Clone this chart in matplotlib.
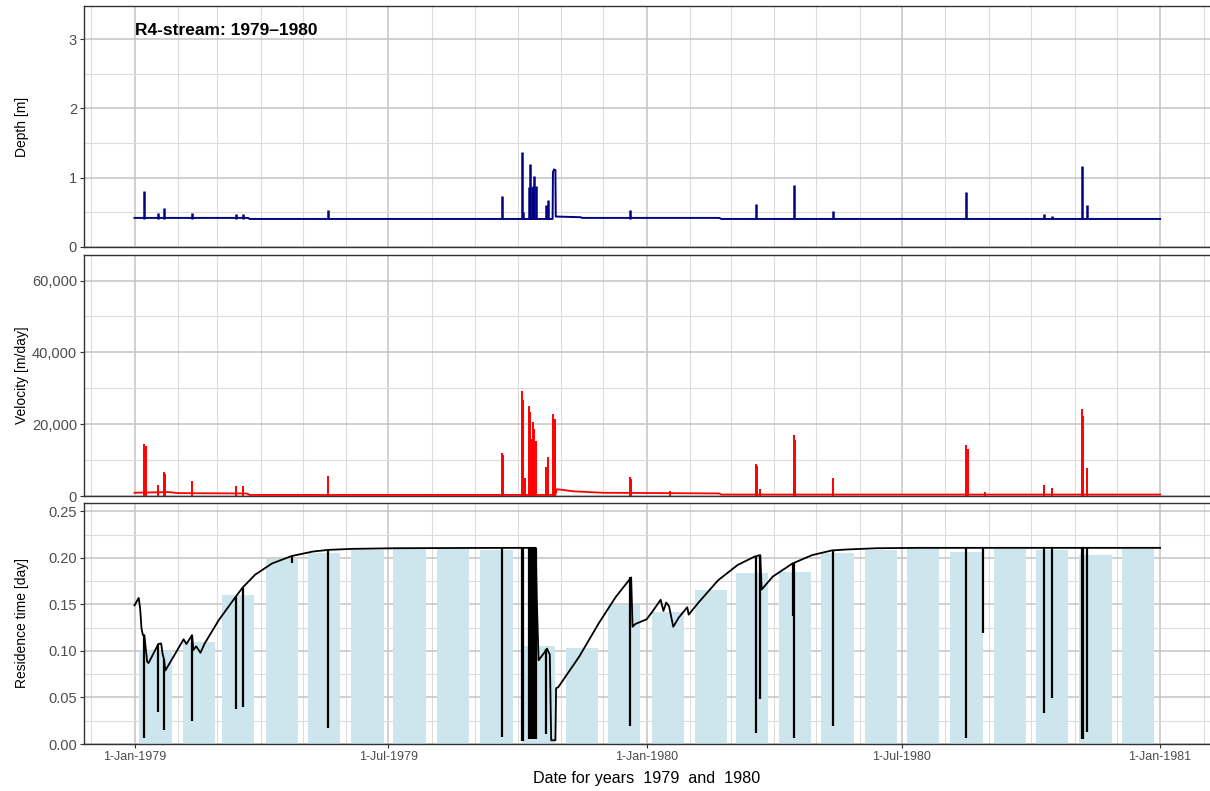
import matplotlib
matplotlib.use('Agg')
import matplotlib.pyplot as plt
import matplotlib.ticker as mticker
import pandas as pd

plt.rcParams['font.family'] = ['Liberation Sans', 'DejaVu Sans']

# ---- depth [m] ----
depth_base_dates = ['1979-01-01', '1979-03-23', '1979-03-24', '1979-10-26', '1979-10-26 06:00',
                    '1979-10-27', '1979-10-28', '1979-10-28 06:00', '1979-11-15', '1979-11-16',
                    '1980-02-22', '1980-02-23', '1981-01-01']
depth_base_vals = [0.42, 0.42, 0.405, 0.405, 1.08, 1.12, 1.11, 0.44, 0.43, 0.42, 0.42, 0.405, 0.405]
depth_spk_dates = ['1979-01-08', '1979-01-18', '1979-01-22', '1979-02-11', '1979-03-14', '1979-03-19',
                   '1979-05-19', '1979-09-20', '1979-10-04', '1979-10-05', '1979-10-09', '1979-10-10',
                   '1979-10-11', '1979-10-12', '1979-10-13', '1979-10-14', '1979-10-21', '1979-10-23',
                   '1979-12-20', '1980-03-19', '1980-04-15', '1980-05-13', '1980-08-16', '1980-10-10',
                   '1980-10-16', '1980-11-06', '1980-11-10']
depth_spk_vals = [0.81, 0.49, 0.56, 0.49, 0.48, 0.48, 0.54, 0.73, 1.37, 0.50, 0.86, 1.20,
                  0.86, 0.88, 1.02, 0.88, 0.60, 0.68, 0.53, 0.62, 0.90, 0.52, 0.80, 0.48,
                  0.45, 1.17, 0.60]

# ---- velocity [m/day] ----
vel_base_dates = ['1979-01-01', '1979-01-25', '1979-02-01', '1979-03-22', '1979-03-24', '1979-10-28',
                  '1979-10-29', '1979-11-10', '1979-12-01', '1980-01-15', '1980-02-22', '1980-02-23',
                  '1981-01-01']
vel_base_vals = [900, 1100, 800, 700, 300, 300, 1900, 1300, 900, 800, 700, 400, 400]
vel_spk_dates = ['1979-01-08', '1979-01-09', '1979-01-18', '1979-01-22', '1979-01-23', '1979-02-11',
                 '1979-03-14', '1979-03-19', '1979-05-19', '1979-09-20', '1979-09-21', '1979-10-04',
                 '1979-10-05', '1979-10-06', '1979-10-09', '1979-10-10', '1979-10-11', '1979-10-12',
                 '1979-10-13', '1979-10-14', '1979-10-21', '1979-10-23', '1979-10-26', '1979-10-27',
                 '1979-10-28', '1979-12-20', '1979-12-21', '1980-01-18', '1980-03-19', '1980-03-20',
                 '1980-03-22', '1980-04-15', '1980-04-16', '1980-05-13', '1980-08-16', '1980-08-17',
                 '1980-08-29', '1980-10-10', '1980-10-16', '1980-11-06', '1980-11-07', '1980-11-10']
vel_spk_vals = [14500, 13800, 3100, 6800, 6200, 4200,
                2700, 2700, 5700, 12100, 11500, 29300,
                26800, 5100, 25000, 23300, 15900, 20500,
                18700, 15400, 8100, 10900, 22900, 21400,
                21400, 5300, 4800, 1300, 8900, 8400,
                1900, 17000, 15600, 5100, 14300, 13200,
                1000, 3000, 2100, 24100, 22400, 7700]

# ---- residence time [day] ----
res_dates = ['1979-01-01', '1979-01-04', '1979-01-05', '1979-01-06', '1979-01-07', '1979-01-08',
             '1979-01-10', '1979-01-11', '1979-01-18', '1979-01-20', '1979-01-21', '1979-01-22',
             '1979-01-23', '1979-01-30', '1979-02-05', '1979-02-07', '1979-02-11', '1979-02-12',
             '1979-02-14', '1979-02-17', '1979-02-20', '1979-03-02', '1979-03-14', '1979-03-19',
             '1979-03-28', '1979-04-09', '1979-04-23', '1979-05-08', '1979-05-19', '1979-06-05',
             '1979-07-06', '1979-08-29', '1979-10-14', '1979-10-14 18:00', '1979-10-16', '1979-10-20',
             '1979-10-22', '1979-10-24', '1979-10-25', '1979-10-28', '1979-10-28 12:00', '1979-10-30',
             '1979-11-14', '1979-11-28', '1979-12-10', '1979-12-21', '1979-12-22', '1979-12-24',
             '1980-01-01', '1980-01-05', '1980-01-11', '1980-01-13', '1980-01-15', '1980-01-17',
             '1980-01-20', '1980-01-24', '1980-01-30', '1980-01-31', '1980-02-07', '1980-02-21',
             '1980-03-06', '1980-03-18', '1980-03-22', '1980-03-23', '1980-03-31', '1980-04-14',
             '1980-04-28', '1980-05-12', '1980-05-22', '1980-06-13', '1980-07-13', '1981-01-01']
res_vals = [0.149, 0.157, 0.146, 0.124, 0.117, 0.117,
            0.0885, 0.087, 0.1075, 0.108, 0.097, 0.091,
            0.079, 0.097, 0.1125, 0.1075, 0.117, 0.101,
            0.105, 0.098, 0.108, 0.133, 0.158, 0.168,
            0.182, 0.194, 0.202, 0.2068, 0.2086, 0.2097,
            0.2104, 0.2107, 0.2108, 0.155, 0.090, 0.098,
            0.1025, 0.096, 0.004, 0.004, 0.060, 0.061,
            0.094, 0.130, 0.158, 0.179, 0.126, 0.129,
            0.134, 0.142, 0.155, 0.143, 0.152, 0.148,
            0.126, 0.136, 0.147, 0.139, 0.152, 0.176,
            0.1925, 0.2014, 0.203, 0.166, 0.180, 0.194,
            0.203, 0.208, 0.209, 0.2104, 0.2108, 0.2108]
res_spk_dates = ['1979-01-08', '1979-01-18', '1979-01-22', '1979-02-11', '1979-03-14', '1979-03-19',
                 '1979-04-23', '1979-05-19', '1979-09-20', '1979-10-04', '1979-10-05', '1979-10-09',
                 '1979-10-10', '1979-10-11', '1979-10-12', '1979-10-13', '1979-10-14', '1979-10-21',
                 '1979-12-20', '1980-03-19', '1980-03-22', '1980-04-14', '1980-04-15', '1980-05-13',
                 '1980-08-16', '1980-08-28', '1980-10-10', '1980-10-16', '1980-11-06', '1980-11-07',
                 '1980-11-10']
res_spk_low = [0.006, 0.034, 0.015, 0.025, 0.038, 0.040,
               0.195, 0.017, 0.008, 0.003, 0.003, 0.005,
               0.005, 0.005, 0.005, 0.005, 0.005, 0.011,
               0.019, 0.0115, 0.048, 0.138, 0.006, 0.019,
               0.006, 0.119, 0.033, 0.049, 0.005, 0.005,
               0.013]
res_spk_high = [0.117, 0.1075, 0.091, 0.117, 0.158, 0.168,
                0.202, 0.2086, 0.2108, 0.2108, 0.2108, 0.2108,
                0.2108, 0.2108, 0.2108, 0.2108, 0.2108, 0.1025,
                0.179, 0.2014, 0.203, 0.194, 0.194, 0.208,
                0.2108, 0.2108, 0.2108, 0.2108, 0.2108, 0.2108,
                0.2108]

# monthly means (bars)
bar_months = ['1979-01', '1979-02', '1979-03', '1979-04', '1979-05', '1979-06',
              '1979-07', '1979-08', '1979-09', '1979-10', '1979-11', '1979-12',
              '1980-01', '1980-02', '1980-03', '1980-04', '1980-05', '1980-06',
              '1980-07', '1980-08', '1980-09', '1980-10', '1980-11', '1980-12']
bar_vals = [0.100, 0.110, 0.160, 0.199, 0.205, 0.209,
            0.210, 0.210, 0.208, 0.105, 0.1035, 0.149,
            0.142, 0.166, 0.184, 0.185, 0.205, 0.209,
            0.2104, 0.206, 0.210, 0.2086, 0.203, 0.210]


def dt(lst):
    return pd.to_datetime(lst, format='mixed')


W, H = 1210, 791
fig = plt.figure(figsize=(W / 100, H / 100), dpi=100)


def box(l, t, r, b):
    return [l / W, 1 - b / H, (r - l) / W, (b - t) / H]


ax1 = fig.add_axes(box(84, 6, 1212, 247))
ax2 = fig.add_axes(box(84, 255, 1212, 496))
ax3 = fig.add_axes(box(84, 503, 1212, 744))

xmin, xmax = pd.Timestamp('1978-11-26'), pd.Timestamp('1981-02-07')
major_x = dt(['1979-01-01', '1979-07-01', '1980-01-01', '1980-07-01', '1981-01-01'])
minor_x = pd.date_range('1978-12-01', '1981-02-01', freq='MS')


def style(ax, ymax, yt, ymin_t, ylab, title, show_x):
    ax.set_xlim(xmin, xmax)
    ax.set_ylim(0, ymax)
    ax.set_xticks(major_x)
    ax.set_xticks(minor_x, minor=True)
    ax.set_yticks(yt)
    ax.set_yticks(ymin_t, minor=True)
    ax.set_yticklabels(ylab)
    ax.grid(which='major', color='#c4c4c4', lw=1.1)
    ax.grid(which='minor', color='#dcdcdc', lw=0.8)
    ax.set_axisbelow(True)
    for s in ax.spines.values():
        s.set_color('#333333')
        s.set_linewidth(1.0)
    ax.tick_params(which='major', length=3, color='#333333', labelcolor='#4d4d4d', pad=2)
    ax.tick_params(axis='y', which='major', labelsize=10.5)
    ax.tick_params(axis='x', which='major', labelsize=9)
    ax.tick_params(which='minor', length=0)
    if show_x:
        ax.xaxis.set_major_formatter(mticker.FuncFormatter(
            lambda v, p: '%d-%s' % (matplotlib.dates.num2date(v).day,
                                    matplotlib.dates.num2date(v).strftime('%b-%Y'))))
    else:
        ax.tick_params(axis='x', which='major', length=0, labelbottom=False)
    pos = ax.get_position()
    fig.text(22 / W, pos.y0 + pos.height / 2, title, rotation=90, ha='center', va='center',
             fontsize=10, color='black')


style(ax1, 3.48, [0, 1, 2, 3], [0.5, 1.5, 2.5], ['0', '1', '2', '3'], 'Depth [m]', False)
style(ax2, 67100, [0, 20000, 40000, 60000], [10000, 30000, 50000],
      ['0', '20,000', '40,000', '60,000'], 'Velocity [m/day]', False)
style(ax3, 0.259, [0, 0.05, 0.10, 0.15, 0.20, 0.25],
      [0.025, 0.075, 0.125, 0.175, 0.225],
      ['0.00', '0.05', '0.10', '0.15', '0.20', '0.25'], 'Residence time [day]', True)

# depth
ax1.plot(dt(depth_base_dates), depth_base_vals, color='#000080', lw=1.4, zorder=3)
ax1.vlines(dt(depth_spk_dates), 0.405, depth_spk_vals, color='#000080', lw=1.8, zorder=3)
ax1.text(pd.Timestamp('1979-01-01'), 3.12, 'R4-stream: 1979\u20131980', fontweight='bold',
         fontsize=12.5, ha='left', va='center')

# velocity
ax2.plot(dt(vel_base_dates), vel_base_vals, color='red', lw=1.3, zorder=3)
ax2.vlines(dt(vel_spk_dates), 0, vel_spk_vals, color='red', lw=1.4, zorder=3)

# residence
bar_x = dt(bar_months) + pd.Timedelta(days=15)
ax3.bar(bar_x, bar_vals, width=23, color='#cde6ed', zorder=2)
ax3.plot(dt(res_dates), res_vals, color='black', lw=1.3, zorder=3)
ax3.vlines(dt(res_spk_dates), res_spk_low, res_spk_high, color='black', lw=1.6, zorder=3)

fig.text(647 / W, 1 - 778 / H, 'Date for years  1979  and  1980', ha='center', va='center',
         fontsize=11.6)

fig.savefig('out.png', dpi=100)
